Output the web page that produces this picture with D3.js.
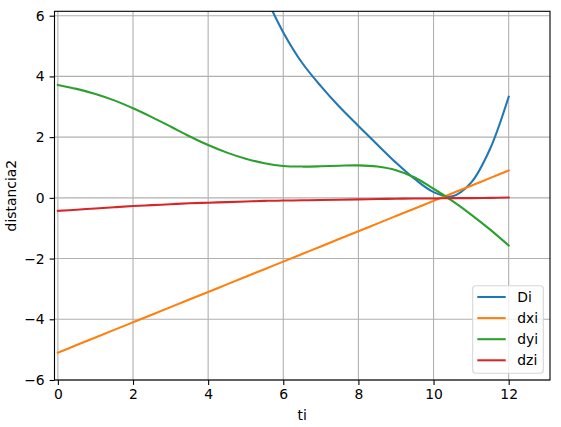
<!DOCTYPE html>
<html>
<head>
<meta charset="utf-8">
<script src="https://cdn.jsdelivr.net/npm/d3@7"></script>
<style>
body { margin: 0; background: #fff; }
text { font-family: "DejaVu Sans", sans-serif; }
</style>
</head>
<body>
<div id="chart"></div>
<script>
// data
var ti  = [0, 0.5, 1, 1.5, 2, 2.5, 3, 3.5, 4, 4.5, 5, 5.5, 6, 6.5, 7, 7.5, 8, 8.5, 9, 9.5, 10, 10.5, 11, 11.5, 12];
var Di  = [40.0, 36.5, 33.2, 29.4, 25.6, 22.0, 18.7, 15.4, 12.6, 10.1, 8.0, 6.7, 5.45, 4.45, 3.68, 2.99, 2.37, 1.76, 1.16, 0.62, 0.19, 0.05, 0.50, 1.60, 3.33];
var dxi = [-5.1, -4.85, -4.6, -4.35, -4.1, -3.85, -3.6, -3.35, -3.1, -2.85, -2.6, -2.35, -2.1, -1.85, -1.6, -1.35, -1.1, -0.85, -0.6, -0.35, -0.1, 0.15, 0.4, 0.65, 0.9];
var dyi = [3.72, 3.59, 3.42, 3.21, 2.95, 2.66, 2.35, 2.03, 1.74, 1.49, 1.29, 1.14, 1.05, 1.03, 1.04, 1.06, 1.07, 1.03, 0.91, 0.67, 0.30, -0.10, -0.55, -1.04, -1.57];
var dzi = [-0.43, -0.39, -0.35, -0.31, -0.27, -0.24, -0.21, -0.18, -0.16, -0.14, -0.12, -0.10, -0.09, -0.08, -0.07, -0.06, -0.05, -0.04, -0.03, -0.02, -0.02, -0.01, -0.01, 0.0, 0.01];
var seriesNames = ["Di", "dxi", "dyi", "dzi"];
var xTicks = [0, 2, 4, 6, 8, 10, 12];
var yTicks = [-6, -4, -2, 0, 2, 4, 6];

var width = 561, height = 427;
var mLeft = 54.5, mRight = 550, mTop = 11.3, mBottom = 380;
var colors = ["#1f77b4", "#ff7f0e", "#2ca02c", "#d62728"];
var values = [Di, dxi, dyi, dzi];

var svg = d3.select("#chart").append("svg")
	.attr("width", width)
	.attr("height", height);

var x = d3.scaleLinear().domain([-0.09, 13.1]).range([mLeft, mRight]);
var y = d3.scaleLinear().domain([-6.0, 6.145]).range([mBottom, mTop]);

svg.append("defs").append("clipPath").attr("id", "clip")
	.append("rect")
	.attr("x", mLeft).attr("y", mTop)
	.attr("width", mRight - mLeft).attr("height", mBottom - mTop);

// grid
var grid = svg.append("g");
grid.selectAll("line.gx").data(xTicks).enter().append("line")
	.attr("x1", function(d) { return x(d); })
	.attr("x2", function(d) { return x(d); })
	.attr("y1", mTop).attr("y2", mBottom)
	.attr("stroke", "#b0b0b0").attr("stroke-width", 1.1);
grid.selectAll("line.gy").data(yTicks).enter().append("line")
	.attr("y1", function(d) { return y(d); })
	.attr("y2", function(d) { return y(d); })
	.attr("x1", mLeft).attr("x2", mRight)
	.attr("stroke", "#b0b0b0").attr("stroke-width", 1.1);

// lines
var line = d3.line()
	.x(function(d) { return x(d[0]); })
	.y(function(d) { return y(d[1]); })
	.curve(d3.curveCatmullRom);

svg.append("g").attr("clip-path", "url(#clip)")
	.selectAll("path")
	.data(values)
	.enter().append("path")
	.attr("d", function(v) { return line(ti.map(function(t, i) { return [t, v[i]]; })); })
	.attr("fill", "none")
	.attr("stroke", function(d, i) { return colors[i]; })
	.attr("stroke-width", 2.08)
	.attr("stroke-linecap", "square");

// axes
var xAxis = svg.append("g")
	.attr("transform", "translate(0," + mBottom + ")")
	.call(d3.axisBottom(x).tickValues(xTicks).tickSize(4.9).tickPadding(4.2).tickFormat(d3.format("d")));
var yAxis = svg.append("g")
	.attr("transform", "translate(" + mLeft + ",0)")
	.call(d3.axisLeft(y).tickValues(yTicks).tickSize(4.9).tickPadding(4.9).tickFormat(d3.format("d")));
[xAxis, yAxis].forEach(function(a) {
	a.select(".domain").remove();
	a.selectAll("line").attr("stroke", "#000").attr("stroke-width", 1.1);
	a.selectAll("text").attr("fill", "#000").style("font-size", "13.9px").style("font-family", "'DejaVu Sans', sans-serif");
});

// frame
svg.append("rect")
	.attr("x", mLeft).attr("y", mTop)
	.attr("width", mRight - mLeft).attr("height", mBottom - mTop)
	.attr("fill", "none").attr("stroke", "#000").attr("stroke-width", 1.1);

// axis labels
svg.append("text")
	.attr("x", (mLeft + mRight) / 2).attr("y", 420)
	.attr("text-anchor", "middle")
	.style("font-size", "13.9px")
	.text("ti");
svg.append("text")
	.attr("transform", "translate(16," + ((mTop + mBottom) / 2) + ") rotate(-90)")
	.attr("text-anchor", "middle")
	.style("font-size", "13.9px")
	.text("distancia2");

// legend
var legend = svg.append("g");
legend.append("rect")
	.attr("x", 472.7).attr("y", 285.7)
	.attr("width", 70.6).attr("height", 87.6)
	.attr("rx", 3).attr("ry", 3)
	.attr("fill", "#fff").attr("fill-opacity", 0.8)
	.attr("stroke", "#d6d6d6").attr("stroke-width", 1.1);
var item = legend.selectAll("g.item").data(seriesNames).enter().append("g")
	.attr("transform", function(d, i) { return "translate(0," + (297 + i * 21.1) + ")"; });
item.append("line")
	.attr("x1", 477.3).attr("x2", 505.7)
	.attr("stroke", function(d, i) { return colors[i]; })
	.attr("stroke-width", 2.08);
item.append("text")
	.attr("x", 517.3).attr("y", 5)
	.style("font-size", "13.9px")
	.text(function(d) { return d; });
</script>
</body>
</html>
